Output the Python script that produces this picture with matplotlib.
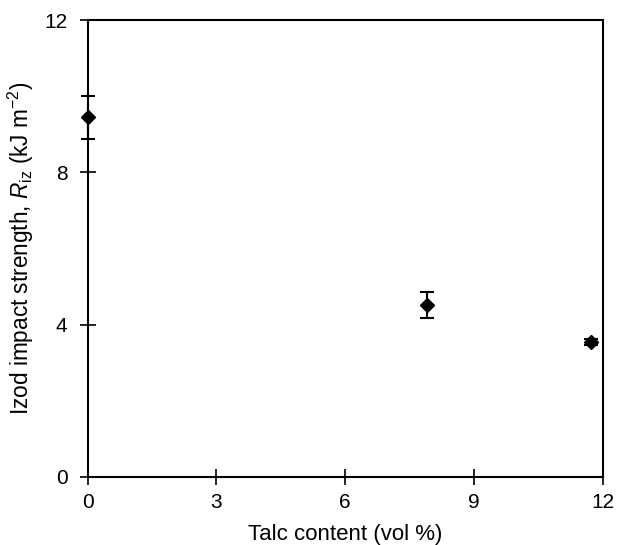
import matplotlib
matplotlib.use('Agg')
import matplotlib.pyplot as plt

# Data
talc = [0.0, 7.9, 11.72]
impact = [9.45, 4.52, 3.55]
impact_err = [0.57, 0.34, 0.08]

x_ticks = [0, 3, 6, 9, 12]
y_ticks = [0, 4, 8, 12]

plt.rcParams['font.family'] = ['Liberation Sans', 'DejaVu Sans']
plt.rcParams['mathtext.fontset'] = 'custom'
plt.rcParams['mathtext.rm'] = 'Liberation Sans'
plt.rcParams['mathtext.it'] = 'Liberation Sans:italic'

fig = plt.figure(figsize=(6.17, 5.45), dpi=100)
ax = fig.add_axes([0.142, 0.125, 0.835, 0.838])

ax.errorbar(talc, impact, yerr=impact_err, fmt='D', color='black',
            markersize=7, capsize=5, elinewidth=1.5, capthick=1.5,
            clip_on=False, zorder=3)

ax.set_xlim(0, 12)
ax.set_ylim(0, 12)
ax.set_xticks(x_ticks)
ax.set_yticks(y_ticks)
ax.tick_params(direction='inout', length=11, width=1.2, labelsize=15)
ax.tick_params(axis='x', pad=6)
ax.tick_params(axis='y', pad=9)

for s in ax.spines.values():
    s.set_linewidth(1.5)

ax.set_xlabel('Talc content (vol %)', fontsize=16, labelpad=8.5)
ax.set_ylabel(r'Izod impact strength, $\mathit{R}_{\mathrm{iz}}$ (kJ m$^{-2}$)',
              fontsize=16.3, labelpad=6)

fig.savefig('out.png', dpi=100)
